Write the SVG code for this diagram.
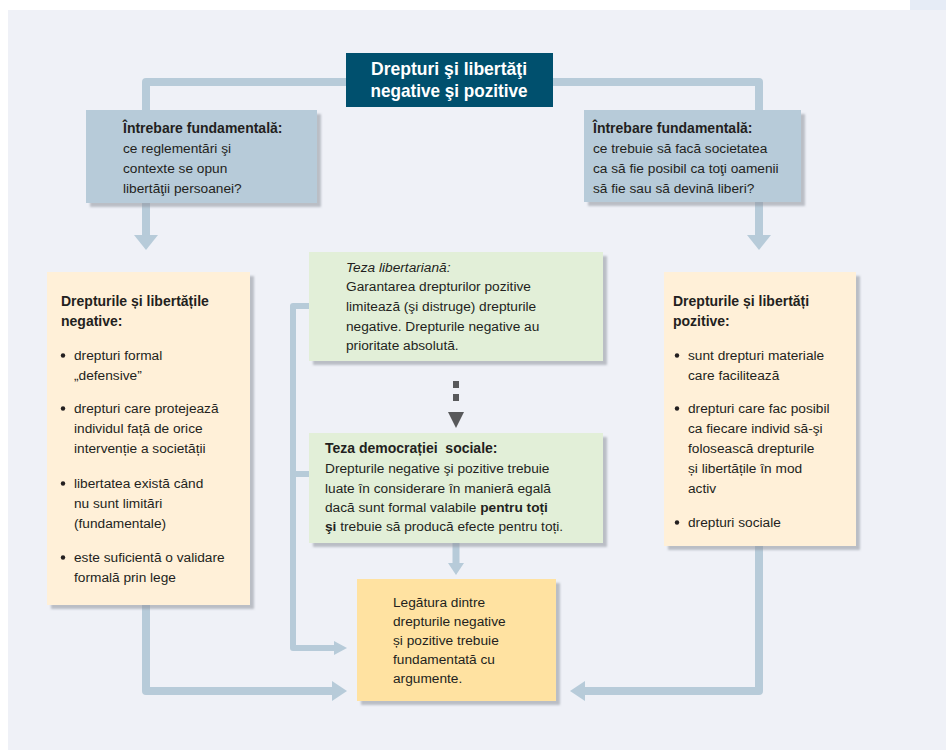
<svg xmlns="http://www.w3.org/2000/svg" width="946" height="750" viewBox="0 0 946 750">
<defs>
<filter id="sh" x="-10%" y="-10%" width="130%" height="130%">
<feDropShadow dx="4" dy="4" stdDeviation="1.2" flood-color="#8f939c" flood-opacity="0.55"/>
</filter>
<style>
text{font-family:"Liberation Sans",Arial,sans-serif;fill:#231f20;font-size:13.7px}
.b{font-weight:bold;font-size:14px}
.i{font-style:italic}
.title{fill:#ffffff;font-weight:bold;font-size:19px}
.q{fill:#b7cbd9}
.cr{fill:#fff0d8}
.gr{fill:#e2efd8}
.ye{fill:#ffe2a1}
.ln{fill:none;stroke:#b7cbd9;stroke-width:8;stroke-linejoin:round;stroke-linecap:butt}
.ln6{fill:none;stroke:#b7cbd9;stroke-width:6;stroke-linejoin:round}
.ah{fill:#b7cbd9}
.dk{fill:#58595b}
.bul{fill:#231f20}
</style>
</defs>
<rect x="0" y="0" width="946" height="750" fill="#ffffff"/>
<rect x="8" y="10" width="938" height="740" fill="#eff1f7"/>
<rect x="910" y="0" width="36" height="10" fill="#e6ecf6"/>

<g id="connectors">
<path class="ln" d="M146 110 V82 H759 V110"/>
<path class="ln" d="M146 203 V236"/>
<polygon class="ah" points="134,235 158,235 146,250"/>
<path class="ln" d="M759 202 V236"/>
<polygon class="ah" points="747,235 771,235 759,250"/>
<path class="ln" d="M146 605 V691 H333"/>
<polygon class="ah" points="332,681 332,701 347,691"/>
<path class="ln" d="M759 546 V691 H584"/>
<polygon class="ah" points="585,681 585,701 570,691"/>
<path class="ln6" d="M309 306 H293 V648 H336"/>
<path class="ln6" d="M293 474 H309"/>
<polygon class="ah" points="334,641 334,655 347,648"/>
<path class="ln6" d="M456 543 V564" style="stroke-width:7"/>
<polygon class="ah" points="448,563 464,563 456,575"/>
<rect class="dk" x="453" y="381" width="6" height="7"/>
<rect class="dk" x="453" y="394" width="6" height="7"/>
<polygon class="dk" points="448,412 464,412 456,428"/>
</g>

<g id="title">
<rect x="346" y="53" width="207" height="54" fill="#00506e"/>
<text class="title" x="449" y="75" text-anchor="middle" textLength="156" lengthAdjust="spacingAndGlyphs">Drepturi şi libertăţi</text>
<text class="title" x="449" y="97" text-anchor="middle" textLength="157" lengthAdjust="spacingAndGlyphs">negative şi pozitive</text>
</g>

<g id="q-left">
<rect class="q" x="86" y="110" width="231" height="93" filter="url(#sh)"/>
<text class="b" x="123" y="133">Întrebare fundamentală:</text>
<text x="123" y="153">ce reglementări şi</text>
<text x="123" y="173">contexte se opun</text>
<text x="123" y="193">libertăţii persoanei?</text>
</g>

<g id="q-right">
<rect class="q" x="584" y="110" width="217" height="92" filter="url(#sh)"/>
<text class="b" x="593" y="133">Întrebare fundamentală:</text>
<text x="593" y="153">ce trebuie să facă societatea</text>
<text x="593" y="173">ca să fie posibil ca toţi oamenii</text>
<text x="593" y="193">să fie sau să devină liberi?</text>
</g>

<g id="negative">
<rect class="cr" x="47" y="272" width="203" height="333" filter="url(#sh)"/>
<text class="b" x="61" y="306">Drepturile și libertățile</text>
<text class="b" x="61" y="326">negative:</text>
<circle class="bul" cx="63" cy="355.5" r="2.2"/>
<text x="74" y="360">drepturi formal</text>
<text x="74" y="380">„defensive”</text>
<circle class="bul" cx="63" cy="408.5" r="2.2"/>
<text x="74" y="413">drepturi care protejează</text>
<text x="74" y="433">individul față de orice</text>
<text x="74" y="453">intervenție a societății</text>
<circle class="bul" cx="63" cy="483.5" r="2.2"/>
<text x="74" y="488">libertatea există când</text>
<text x="74" y="508">nu sunt limitări</text>
<text x="74" y="528">(fundamentale)</text>
<circle class="bul" cx="63" cy="557.5" r="2.2"/>
<text x="74" y="562">este suficientă o validare</text>
<text x="74" y="582">formală prin lege</text>
</g>

<g id="positive">
<rect class="cr" x="664" y="272" width="192" height="274" filter="url(#sh)"/>
<text class="b" x="673" y="306">Drepturile și libertăți</text>
<text class="b" x="673" y="326">pozitive:</text>
<circle class="bul" cx="677" cy="355.5" r="2.2"/>
<text x="688" y="360">sunt drepturi materiale</text>
<text x="688" y="380">care facilitează</text>
<circle class="bul" cx="677" cy="408.5" r="2.2"/>
<text x="688" y="413">drepturi care fac posibil</text>
<text x="688" y="433">ca fiecare individ să-şi</text>
<text x="688" y="453">folosească drepturile</text>
<text x="688" y="473">și libertățile în mod</text>
<text x="688" y="493">activ</text>
<circle class="bul" cx="677" cy="522.5" r="2.2"/>
<text x="688" y="527">drepturi sociale</text>
</g>

<g id="libertarian">
<rect class="gr" x="309" y="252" width="294" height="109" filter="url(#sh)"/>
<text class="i" x="346" y="272">Teza libertariană:</text>
<text x="346" y="291">Garantarea drepturilor pozitive</text>
<text x="346" y="311">limitează (şi distruge) drepturile</text>
<text x="346" y="331">negative. Drepturile negative au</text>
<text x="346" y="350">prioritate absolută.</text>
</g>

<g id="social-democracy">
<rect class="gr" x="309" y="433" width="294" height="110" filter="url(#sh)"/>
<text class="b" x="325" y="453" xml:space="preserve">Teza democrației  sociale:</text>
<text x="325" y="473">Drepturile negative şi pozitive trebuie</text>
<text x="325" y="493">luate în considerare în manieră egală</text>
<text x="325" y="512">dacă sunt formal valabile <tspan font-weight="bold">pentru toți</tspan></text>
<text x="325" y="531"><tspan font-weight="bold">şi</tspan> trebuie să producă efecte pentru toți.</text>
</g>

<g id="link">
<rect class="ye" x="357" y="579" width="199" height="122" filter="url(#sh)"/>
<text x="393" y="607">Legătura dintre</text>
<text x="393" y="626">drepturile negative</text>
<text x="393" y="645">și pozitive trebuie</text>
<text x="393" y="664">fundamentată cu</text>
<text x="393" y="683">argumente.</text>
</g>
</svg>
